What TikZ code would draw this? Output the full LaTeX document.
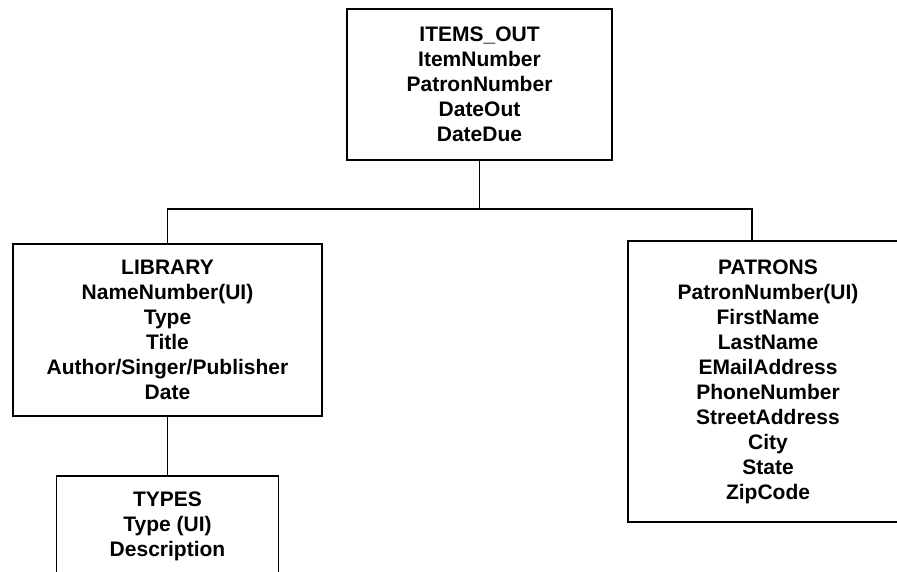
\documentclass[tikz,border=0pt]{standalone}
\usepackage{fontspec}
\setmainfont{Liberation Sans}
\begin{document}
\begin{tikzpicture}[x=1pt,y=-1pt,
  entity/.style={draw,line width=1.6pt,align=center,inner sep=0pt,
    font=\fontsize{21}{25}\selectfont\bfseries},
  link/.style={line width=1.6pt}]
\clip (0,0) rectangle (897,571);
\fill[white] (0,0) rectangle (897,571);
\node[entity,minimum width=265,minimum height=151] (items) at (479.5,84.5)
  {ITEMS\_OUT\\ItemNumber\\PatronNumber\\DateOut\\DateDue};
\node[entity,minimum width=309,minimum height=172] (lib) at (167.5,330)
  {LIBRARY\\NameNumber(UI)\\Type\\Title\\Author/Singer/Publisher\\Date};
\node[entity,minimum width=280,minimum height=281] (pat) at (768,381.5)
  {PATRONS\\PatronNumber(UI)\\FirstName\\LastName\\EMailAddress\\PhoneNumber\\StreetAddress\\City\\State\\ZipCode};
\node[entity,minimum width=222,minimum height=100] (types) at (167.5,526)
  {TYPES\\Type (UI)\\Description};
\coordinate (bus) at (479.5,209);
\coordinate (patin) at ([xshift=125pt]pat.north west);
\draw[link] (items.south) -- (bus);
\draw[link] (lib.north) |- (bus) -| (patin);
\draw[link] (lib.south) -- (types.north);
\end{tikzpicture}
\end{document}
